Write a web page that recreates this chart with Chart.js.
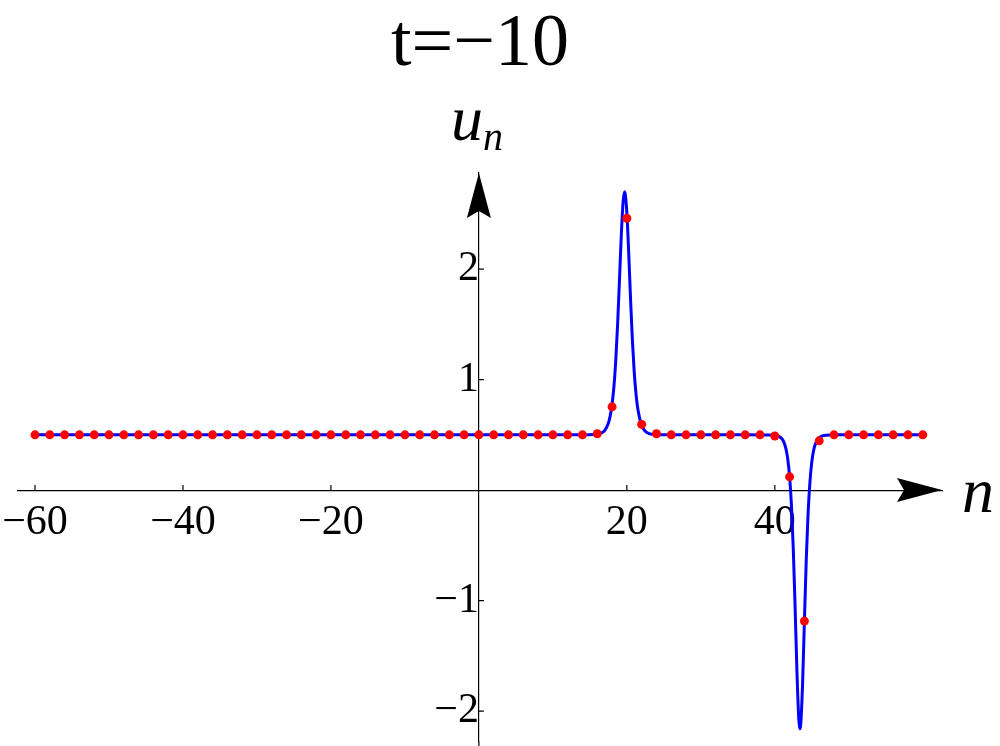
<!DOCTYPE html>
<html>
<head>
<meta charset="utf-8">
<title>t=-10</title>
<script src="https://cdn.jsdelivr.net/npm/chart.js@4.4.1/dist/chart.umd.min.js"></script>
<style>
  html, body { margin: 0; padding: 0; background: #fff; }
  #wrap { width: 1000px; height: 746px; position: relative; }
</style>
</head>
<body>
<div id="wrap"><canvas id="lattice"></canvas></div>
<script>
// continuous solution u(n)
var curveN = [-60, -40, -20, 0, 10, 14, 16, 16.5, 17, 17.5, 17.75, 18, 18.25, 18.5, 18.75, 19, 19.25, 19.5, 19.7,
  20, 20.25, 20.5, 20.75, 21, 21.25, 21.5, 22, 22.5, 23, 24, 26, 30, 36, 39, 40, 40.5, 41, 41.25, 41.5, 41.75,
  42, 42.25, 42.5, 42.75, 43, 43.25, 43.4, 43.5, 43.75, 44, 44.25, 44.5, 44.75, 45, 45.25, 45.5, 46, 46.5, 47,
  48, 52, 56, 60];
var curveU = [0.5, 0.5, 0.5, 0.5, 0.5, 0.501, 0.505, 0.515, 0.539, 0.605, 0.672, 0.775, 0.934, 1.171, 1.498, 1.897, 2.308, 2.614, 2.70,
  2.513, 2.149, 1.730, 1.355, 1.066, 0.862, 0.728, 0.587, 0.532, 0.512, 0.502, 0.5, 0.5, 0.5, 0.499, 0.496, 0.488, 0.461, 0.430, 0.376, 0.282,
  0.121, -0.139, -0.535, -1.073, -1.657, -2.081, -2.16, -2.124, -1.763, -1.189, -0.634, -0.209, 0.075, 0.256, 0.361, 0.421, 0.475, 0.492, 0.497,
  0.5, 0.5, 0.5, 0.5];

// lattice sites (red dots)
var siteN = [-60, -58, -56, -54, -52, -50, -48, -46, -44, -42, -40, -38, -36, -34, -32, -30, -28, -26, -24, -22,
  -20, -18, -16, -14, -12, -10, -8, -6, -4, -2, 0, 2, 4, 6, 8, 10, 12, 14, 16, 18,
  20, 22, 24, 26, 28, 30, 32, 34, 36, 38, 40, 42, 44, 46, 48, 50, 52, 54, 56, 58, 60];
var siteU = [0.5, 0.5, 0.5, 0.5, 0.5, 0.5, 0.5, 0.5, 0.5, 0.5, 0.5, 0.5, 0.5, 0.5, 0.5, 0.5, 0.5, 0.5, 0.5, 0.5,
  0.5, 0.5, 0.5, 0.5, 0.5, 0.5, 0.5, 0.5, 0.5, 0.5, 0.5, 0.5, 0.5, 0.5, 0.5, 0.5, 0.5, 0.5, 0.51, 0.754,
  2.46, 0.595, 0.51, 0.5, 0.5, 0.5, 0.5, 0.5, 0.5, 0.5, 0.49, 0.12, -1.185, 0.446, 0.5, 0.5, 0.5, 0.5, 0.5, 0.5, 0.5];

var xTicks = [-60, -40, -20, 20, 40];
var yTicks = [-2, -1, 1, 2];
var titleText = 't=\u221210';

var serif = "'Liberation Serif', 'Times New Roman', serif";

function fmt(v) {
  return v < 0 ? '\u2212' + Math.abs(v) : String(v);
}

function zip(a, b) {
  return a.map(function (v, i) { return { x: v, y: b[i] }; });
}

// centred axes should not reserve any room in the layout
function noRoom(s) {
  if (s.isHorizontal()) s.height = 0; else s.width = 0;
  s.paddingTop = s.paddingBottom = s.paddingLeft = s.paddingRight = 0;
}

// axis arrows, inward tick marks and axis names
var axisDecor = {
  id: 'axisDecor',
  afterDraw: function (chart) {
    var ctx = chart.ctx;
    var xs = chart.scales.x, ys = chart.scales.y;
    var area = chart.chartArea;
    var ox = xs.getPixelForValue(0), oy = ys.getPixelForValue(0);
    ctx.save();
    ctx.strokeStyle = '#000';
    ctx.fillStyle = '#000';
    ctx.lineWidth = 1.2;
    ctx.beginPath();
    // the vertical axis runs on to the bottom edge
    ctx.moveTo(ox, area.bottom);
    ctx.lineTo(ox, chart.height);
    xTicks.forEach(function (v) {
      var p = xs.getPixelForValue(v);
      ctx.moveTo(p, oy); ctx.lineTo(p, oy - 5);
    });
    yTicks.forEach(function (v) {
      var p = ys.getPixelForValue(v);
      ctx.moveTo(ox, p); ctx.lineTo(ox + 5, p);
    });
    ctx.stroke();

    // arrow heads
    var tx = area.right, ty = area.top;
    ctx.beginPath();
    ctx.moveTo(tx, oy);
    ctx.lineTo(tx - 45, oy - 12);
    ctx.lineTo(tx - 38, oy);
    ctx.lineTo(tx - 45, oy + 12);
    ctx.closePath();
    ctx.fill();
    ctx.beginPath();
    ctx.moveTo(ox, ty);
    ctx.lineTo(ox - 12, ty + 45);
    ctx.lineTo(ox, ty + 38);
    ctx.lineTo(ox + 12, ty + 45);
    ctx.closePath();
    ctx.fill();

    // axis names
    ctx.textBaseline = 'alphabetic';
    ctx.textAlign = 'left';
    ctx.font = 'italic 64px ' + serif;
    ctx.fillText('n', tx + 20, oy + 22);
    ctx.fillText('u', ox - 28, ty - 33);
    ctx.font = 'italic 40px ' + serif;
    ctx.fillText('n', ox + 4, ty - 23);
    ctx.restore();
  }
};

function drawChart() {
  new Chart(document.getElementById('lattice').getContext('2d'), {
    type: 'scatter',
    data: {
      datasets: [{
        label: 'sites',
        data: zip(siteN, siteU),
        showLine: false,
        pointRadius: 4.5,
        pointHoverRadius: 4.5,
        pointBackgroundColor: '#ff0000',
        pointBorderWidth: 0,
        order: 0
      }, {
        label: 'u(n)',
        data: zip(curveN, curveU),
        showLine: true,
        borderColor: '#0000ff',
        borderWidth: 3,
        pointRadius: 0,
        cubicInterpolationMode: 'monotone',
        fill: false,
        order: 1
      }]
    },
    options: {
      responsive: true,
      maintainAspectRatio: false,
      animation: false,
      events: [],
      layout: { padding: { top: 0, left: 18, right: 58, bottom: 1 } },
      plugins: {
        legend: { display: false },
        tooltip: { enabled: false },
        title: {
          display: true,
          text: titleText,
          fullSize: false,
          color: '#000',
          font: { family: serif, size: 74, weight: 'normal', lineHeight: 1.2 },
          padding: { top: 1, bottom: 83.2 }
        }
      },
      scales: {
        x: {
          type: 'linear',
          min: -62.3,
          max: 62.6,
          position: { y: 0 },
          afterFit: noRoom,
          afterBuildTicks: function (s) { s.ticks = xTicks.map(function (v) { return { value: v }; }); },
          grid: { display: false, drawTicks: false },
          border: { display: true, color: '#000', width: 1.2 },
          ticks: {
            color: '#000',
            padding: 8,
            maxRotation: 0,
            autoSkip: false,
            font: { family: serif, size: 42 },
            callback: function (v) { return fmt(v); }
          }
        },
        y: {
          type: 'linear',
          min: -2.275,
          max: 2.87,
          position: { x: 0 },
          afterFit: noRoom,
          afterBuildTicks: function (s) { s.ticks = yTicks.map(function (v) { return { value: v }; }); },
          grid: { display: false, drawTicks: false },
          border: { display: true, color: '#000', width: 1.2 },
          ticks: {
            color: '#000',
            padding: 9,
            autoSkip: false,
            font: { family: serif, size: 42 },
            callback: function (v) { return fmt(v); }
          }
        }
      }
    },
    plugins: [axisDecor]
  });
}

// make sure the serif faces are ready before the canvas text is drawn
if (document.fonts && document.fonts.load) {
  Promise.all([
    document.fonts.load("42px 'Liberation Serif'"),
    document.fonts.load("italic 64px 'Liberation Serif'")
  ]).then(drawChart, drawChart);
} else {
  drawChart();
}
</script>
</body>
</html>
